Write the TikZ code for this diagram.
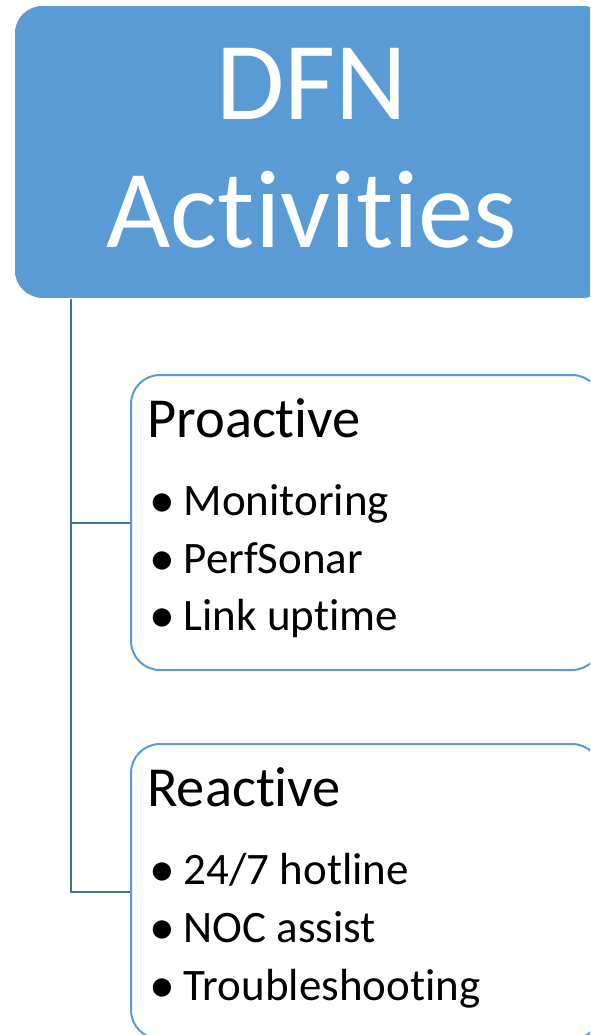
\documentclass[tikz,border=0pt]{standalone}
\usepackage{fontspec}
\setmainfont{Carlito}[RawFeature={-liga;-clig;-calt;-dlig}]
\definecolor{boxblue}{HTML}{5B9BD5}
\definecolor{lineblue}{HTML}{41719C}
\tikzset{
  topbox/.style={rectangle, rounded corners=28pt, fill=boxblue, draw=white, line width=0.8pt,
    anchor=north west, minimum width=596pt, minimum height=293pt, inner sep=0pt},
  childbox/.style={rectangle, rounded corners=29pt, fill=white, draw=boxblue, line width=2pt,
    anchor=north west, minimum width=470pt, minimum height=295pt, inner sep=0pt},
  conn/.style={draw=lineblue, line width=2pt},
  titletxt/.style={text=white, inner sep=0pt, anchor=base, font=\fontsize{111}{130}\selectfont},
  headtxt/.style={inner sep=0pt, anchor=base west, font=\fontsize{56.5}{64}\selectfont},
  itemtxt/.style={inner sep=0pt, anchor=base west, font=\fontsize{45}{52}\selectfont},
}
\newcommand{\bul}[1]{\makebox[34.5pt][l]{\raisebox{-2.5pt}{\scalebox{1.15}{•}}}#1}
\newcommand{\tI}{t\kern0pt i}
\begin{document}
\begin{tikzpicture}[x=1pt,y=-1pt]
\useasboundingbox (0,0) rectangle (590,1035);
\clip (0,0) rectangle (590,1035);
\node[topbox] (top) at (14,5) {};
\node[titletxt] (t1) at (312,120) {DFN};
\node[titletxt] (t2) at (312,247) {Ac\tI vi\tI es};
\coordinate (spine) at (71,298);
\node[childbox] (pro) at (130,374) {};
\node[childbox] (rea) at (130,743) {};
\draw[conn] (top.south -| spine) |- (pro.west);
\draw[conn] (top.south -| spine) |- (rea.west);
\node[headtxt] (ph) at (147,437) {Proac\tI ve};
\node[itemtxt] (p1) at (149,515) {\bul{Monitoring}};
\node[itemtxt] (p2) at (149,573) {\bul{PerfSonar}};
\node[itemtxt] (p3) at (149,630) {\bul{Link up\tI me}};
\node[headtxt] (rh) at (147,806) {Reactive};
\node[itemtxt] (r1) at (149,884) {\bul{24/7 hotline}};
\node[itemtxt] (r2) at (149,942) {\bul{NOC assist}};
\node[itemtxt] (r3) at (149,1000) {\bul{Troubleshoo\tI ng}};
\end{tikzpicture}
\end{document}
